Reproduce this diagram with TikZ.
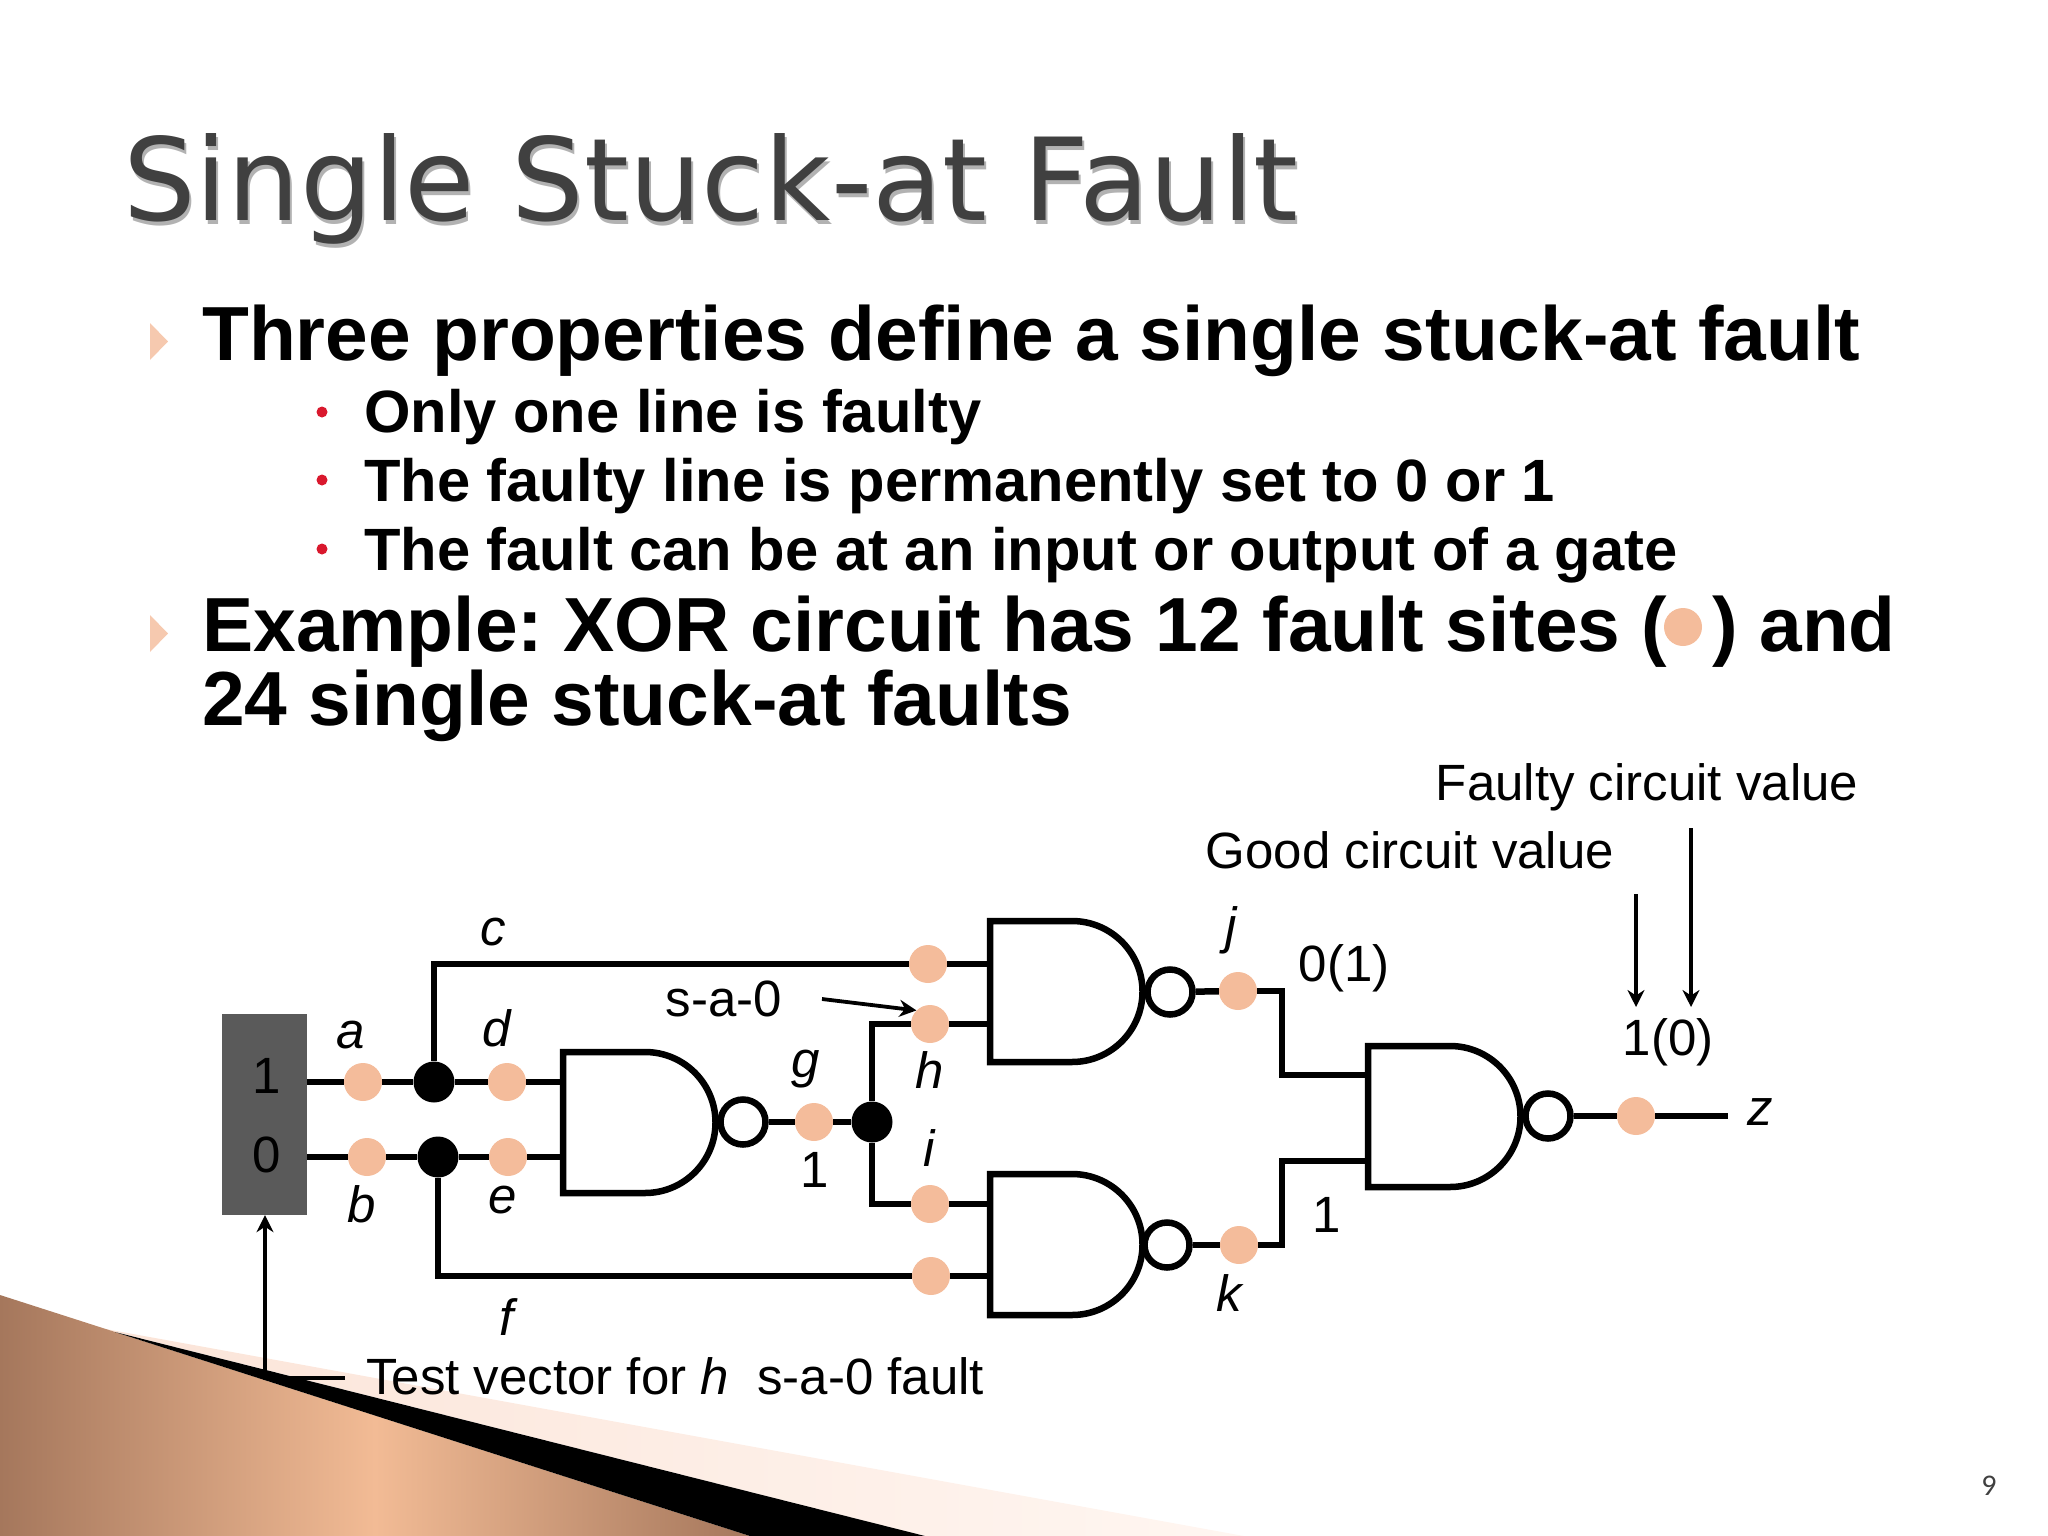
\documentclass[tikz,border=0pt]{standalone}
\usepackage{fontspec}
\setmainfont{Liberation Sans}
\newfontfamily\titlefont{DejaVu Sans}
\newfontfamily\numfont{Carlito}
\usepackage{xcolor}
\usetikzlibrary{arrows.meta, positioning, backgrounds}
\definecolor{sitecol}{HTML}{F4BC9B}
\definecolor{boxcol}{HTML}{5A5A5A}
\definecolor{redcol}{HTML}{D9182D}
\definecolor{titlecol}{HTML}{404040}
\definecolor{brownd}{HTML}{A5775C}
\definecolor{brownl}{HTML}{F2BB95}
\definecolor{palel}{HTML}{FBE4D8}
\definecolor{paler}{HTML}{FFF6F1}

\begin{document}
\begin{tikzpicture}[
    x=1pt, y=-1pt,
    node distance=4pt,
    wire/.style={line width=6.5pt},
    arrow/.style={-{Stealth[length=17pt,width=17pt]}, line width=3.8pt},
    site/.style={circle, fill=sitecol, inner sep=0pt, minimum size=38pt},
    joint/.style={circle, fill=black, inner sep=0pt, minimum size=41pt},
    bubble/.style={circle, draw, line width=6.5pt, fill=white, inner sep=0pt, minimum size=45pt},
    lbl/.style={inner sep=0pt, font=\fontsize{51}{60}\selectfont},
    var/.style={lbl, font=\fontsize{51}{60}\selectfont\itshape},
    head/.style={inner sep=0pt, anchor=base west, font=\fontsize{76.7}{90}\selectfont\bfseries},
    sub/.style={inner sep=0pt, anchor=base west, font=\fontsize{59.7}{70}\selectfont\bfseries},
    reddot/.style={circle, fill=redcol, inner sep=0pt, minimum size=11pt},
    tri/.style={fill=sitecol!80!white},
    pics/nand/.style={code={
        \draw[wire, fill=white] (0,0) -- (82,0) arc[start angle=-90, end angle=90, radius=70.5] -- (0,141) -- cycle;
    }}
]
\useasboundingbox (0,0) rectangle (2048,1536);

% Slide text
\node[inner sep=0pt, anchor=base west, text=black!30, font=\fontsize{114.5}{130}\titlefont] (shadow) at (125,224) {Single Stuck-at Fault};
\node[inner sep=0pt, anchor=base west, text=titlecol, font=\fontsize{114.5}{130}\titlefont] (title) at (123,220) {Single Stuck-at Fault};
\fill[tri] (150,323) -- (168,341.5) -- (150,360) -- cycle;
\fill[tri] (150,615) -- (168,633.5) -- (150,652) -- cycle;
\node[head] (line1) at (202,360) {Three properties define a single stuck-at fault};
\node[reddot] (r1) at (322,412) {};
\node[reddot] (r2) at (322,480) {};
\node[reddot] (r3) at (322,549) {};
\node[sub] (s1) at (364,432) {Only one line is faulty};
\node[sub] (s2) at (364,501.5) {The faulty line is permanently set to 0 or 1};
\node[sub] (s3) at (364,570) {The fault can be at an input or output of a gate};
\node[head] (line2) at (202,651) {Example:\kern-1pt\ XOR circuit has 12 fault sites (};
\node[site] (legend) at (1683,627) {};
\node[head, anchor=base east] (line2b) at (1896,651) {) and};
\node[head] (line3) at (202,725) {24 single stuck-at faults};
\node[inner sep=0pt, text=titlecol, font=\fontsize{30}{34}\numfont] (page) at (1989,1486) {9};

% Input vector
\node[fill=boxcol, minimum width=85pt, minimum height=201pt, inner sep=0pt] (vec) at (264.5,1114.5) {};
\node[lbl] (v1) at (267,1076) {1};
\node[lbl] (v0) at (267,1155) {0};

% Fault sites and fanout points
\node[site] (a) at (363,1082) {};
\node[joint] (ja) at (434,1082) {};
\node[site] (d) at (507,1082) {};
\node[site] (b) at (367,1157) {};
\node[joint] (jb) at (438,1157) {};
\node[site] (e) at (508,1157) {};
\node[bubble] (n1) at (743,1122) {};
\node[site] (g) at (814,1122) {};
\node[joint] (jg) at (872,1122) {};
\node[site] (c) at (928,964) {};
\node[site] (h) at (930,1024) {};
\node[site] (i) at (930,1204) {};
\node[site] (f) at (931,1276) {};
\node[bubble] (n2) at (1170,992) {};
\node[bubble] (n3) at (1167,1245) {};
\node[site] (j) at (1238,991) {};
\node[site] (k) at (1239,1245) {};
\node[bubble] (n4) at (1548,1116) {};
\node[site] (y) at (1636,1116) {};

% Wire ends
\coordinate (g1a) at (563,1082);
\coordinate (g1b) at (563,1157);
\coordinate (g2a) at (990,964);
\coordinate (g2b) at (990,1024);
\coordinate (g3a) at (990,1204);
\coordinate (g3b) at (990,1276);
\coordinate (g4a) at (1368,1075);
\coordinate (g4b) at (1368,1161);
\coordinate (up) at (1282,1075);
\coordinate (dn) at (1282,1161);
\coordinate (zend) at (1728,1116);
\coordinate (tv) at (265,1378);
\coordinate (tvend) at (345,1378);

% Gates
\pic at (563,1052) {nand};
\pic at (990,921) {nand};
\pic at (990,1174) {nand};
\pic at (1368,1046) {nand};

% Labels
\node[var] (la) at (351,1035) {a};
\node[var] (lb) at (362,1204) {b};
\node[var] (lc) at (493,932) {c};
\node[var] (ld) at (497,1028) {d};
\node[var] (le) at (503,1200) {e};
\node[var] (lf) at (507,1317) {f};
\node[var] (lg) at (806,1069) {g};
\node[var, below=8pt of h] (lh) {h};
\node[var] (li) at (929,1148) {i};
\node[var] (lj) at (1231,930) {j};
\node[var] (lk) at (1229,1293) {k};
\node[var] (lz) at (1760,1112) {z};
\node[lbl] (v1g) at (815,1170) {1};
\node[lbl] (v01) at (1344,968) {0(1)};
\node[lbl] (v1k) at (1327,1215) {1};
\node[lbl] (v10) at (1668,1042) {1(0)};
\node[lbl] (sa) at (724,999) {s-a-0};
\node[lbl] (good) at (1410,850) {Good circuit value};
\node[lbl] (bad) at (1647,787) {Faulty circuit value};
\node[lbl, anchor=west] (test) at (366,1376) {Test vector for \textit{h}\ \ s-a-0 fault};
\coordinate (sastart) at (822,999);
\coordinate (goodend) at (1636,1007);
\coordinate (goodtop) at (1636,894);
\coordinate (badend) at (1691,1007);
\coordinate (badtop) at (1691,828);

\begin{scope}[on background layer]
\shade[left color=palel, right color=paler] (100,1328) -- (1244,1536) -- (925,1536) -- cycle;
% Connections
\draw[wire] (vec.east |- a) -- (a) -- (ja) -- (d) -- (g1a);
\draw[wire] (vec.east |- b) -- (b) -- (jb) -- (e) -- (g1b);
\draw[wire] (ja) |- (c);
\draw[wire] (c) -- (g2a);
\draw[wire] (jb) |- (f);
\draw[wire] (f) -- (g3b);
\draw[wire] (n1) -- (g) -- (jg);
\draw[wire] (jg) |- (h);
\draw[wire] (h) -- (g2b);
\draw[wire] (jg) |- (i);
\draw[wire] (i) -- (g3a);
\draw[wire] (n2) -- (j);
\draw[wire] (j) -| (up) -- (g4a);
\draw[wire] (n3) -- (k);
\draw[wire] (k) -| (dn) -- (g4b);
\draw[wire] (n4) -- (y) -- (zend);
\draw[arrow] (tvend) -- (tv) -- (vec.south -| tv);
\draw[arrow] (sastart) -- (h.north west);
\draw[arrow] (goodtop) -- (goodend);
\draw[arrow] (badtop) -- (badend);
% Corner decoration
\shade[left color=brownd, right color=brownd, middle color=brownl] (0,1295) -- (750,1536) -- (0,1536) -- cycle;
\fill[black] (115,1332) -- (925,1536) -- (750,1536) -- cycle;
\end{scope}
\end{tikzpicture}
\end{document}
